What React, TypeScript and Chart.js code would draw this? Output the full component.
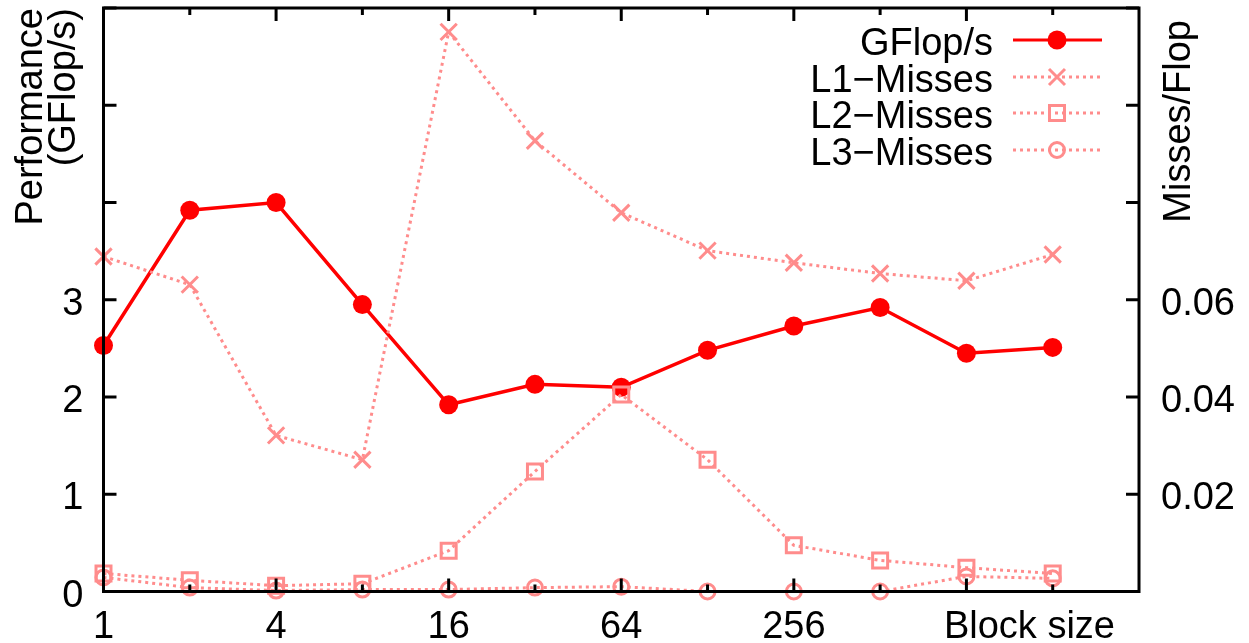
import React, { useEffect, useRef } from 'react';
import { Chart, registerables } from 'chart.js';

Chart.register(...registerables);

// ---- data ----
const blockSizes = ['1', '2', '4', '8', '16', '32', '64', '128', '256', '512', '1024', '2048'];
const xTickLabels = ['1', '', '4', '', '16', '', '64', '', '256', '', '', ''];
const xAxisTitle = 'Block size';
const leftAxisTitle = ['Performance', '(GFlop/s)'];
const rightAxisTitle = 'Misses/Flop';

const gflops = [2.53, 3.92, 4.0, 2.95, 1.92, 2.13, 2.1, 2.48, 2.73, 2.92, 2.45, 2.51];
const l1Misses = [0.0689, 0.0631, 0.0321, 0.0271, 0.1151, 0.0927, 0.0779, 0.0701, 0.0676, 0.0654, 0.0639, 0.0693];
const l2Misses = [0.0037, 0.0023, 0.0012, 0.0016, 0.0084, 0.0247, 0.0405, 0.0271, 0.0095, 0.0064, 0.0049, 0.0037];
const l3Misses = [0.0029, 0.0008, 0.0002, 0.0004, 0.0004, 0.0008, 0.001, 0, 0, 0, 0.0031, 0.0027];

const leftTicks = [0, 1, 2, 3, 4, 5, 6];
const leftTickLabels = ['0', '1', '2', '3', '', '', ''];
const rightTicks = [0, 0.02, 0.04, 0.06, 0.08, 0.1, 0.12];
const rightTickLabels = ['', '0.02', '0.04', '0.06', '', '', ''];

const seriesNames = ['GFlop/s', 'L1\u2212Misses', 'L2\u2212Misses', 'L3\u2212Misses'];

const RED = '#ff0000';
const PINK = '#ff8c8c';
const FONT = '38px "Liberation Sans", Arial, Helvetica, sans-serif';

const toPts = (arr: number[]) => arr.map((v, i) => ({ x: i, y: v }));

function drawMarker(ctx: CanvasRenderingContext2D, kind: string, x: number, y: number) {
  ctx.save();
  ctx.setLineDash([]);
  if (kind === 'circleFilled') {
    ctx.fillStyle = RED;
    ctx.beginPath();
    ctx.arc(x, y, 9.5, 0, Math.PI * 2);
    ctx.fill();
  } else if (kind === 'cross') {
    ctx.strokeStyle = PINK;
    ctx.lineWidth = 3;
    const d = 8;
    ctx.beginPath();
    ctx.moveTo(x - d, y - d);
    ctx.lineTo(x + d, y + d);
    ctx.moveTo(x + d, y - d);
    ctx.lineTo(x - d, y + d);
    ctx.stroke();
  } else if (kind === 'rect') {
    ctx.strokeStyle = PINK;
    ctx.lineWidth = 3;
    ctx.strokeRect(x - 7.5, y - 7.5, 15, 15);
  } else if (kind === 'circle') {
    ctx.strokeStyle = PINK;
    ctx.lineWidth = 3;
    ctx.beginPath();
    ctx.arc(x, y, 7.5, 0, Math.PI * 2);
    ctx.stroke();
  }
  ctx.restore();
}

const framePlugin = {
  id: 'gnuFrame',
  afterDatasetsDraw(chart: any) {
    const { ctx, chartArea: a, scales } = chart;
    const xs = scales.x;
    const ys = scales.y;
    const y2s = scales.y2;
    const line = (x1: number, y1: number, x2: number, y2: number) => {
      ctx.beginPath();
      ctx.moveTo(x1, y1);
      ctx.lineTo(x2, y2);
      ctx.stroke();
    };
    ctx.save();
    ctx.strokeStyle = '#000';
    ctx.lineWidth = 3;
    ctx.lineCap = 'butt';
    ctx.setLineDash([]);

    blockSizes.forEach((_, i) => {
      const px = xs.getPixelForValue(i);
      const len = i % 2 === 0 ? 13 : 7;
      line(px, a.bottom, px, a.bottom - len);
      line(px, a.top, px, a.top + len);
    });
    leftTicks.forEach((v) => {
      const py = ys.getPixelForValue(v);
      line(a.left, py, a.left + 13, py);
    });
    rightTicks.forEach((v) => {
      const py = y2s.getPixelForValue(v);
      line(a.right, py, a.right - 13, py);
    });
    ctx.strokeRect(a.left, a.top, a.right - a.left, a.bottom - a.top);

    // tick labels
    ctx.fillStyle = '#000';
    ctx.font = FONT;
    ctx.textBaseline = 'alphabetic';
    ctx.textAlign = 'center';
    xTickLabels.forEach((t, i) => {
      if (!t) return;
      ctx.fillText(t, xs.getPixelForValue(i), 638);
    });
    ctx.textAlign = 'right';
    ctx.fillText(xAxisTitle, a.right - 24, 638);

    leftTicks.forEach((v, i) => {
      const t = leftTickLabels[i];
      if (!t) return;
      ctx.fillText(t, a.left - 20, ys.getPixelForValue(v) + 15);
    });
    ctx.textAlign = 'left';
    rightTicks.forEach((v, i) => {
      const t = rightTickLabels[i];
      if (!t) return;
      ctx.fillText(t, a.right + 22, y2s.getPixelForValue(v) + 15);
    });

    // axis titles (rotated)
    ctx.save();
    ctx.translate(42, 8);
    ctx.rotate(-Math.PI / 2);
    ctx.textAlign = 'right';
    ctx.fillText(leftAxisTitle[0], 0, 0);
    ctx.fillText(leftAxisTitle[1], 0, 33);
    ctx.restore();

    ctx.save();
    ctx.translate(1190, 20);
    ctx.rotate(-Math.PI / 2);
    ctx.textAlign = 'right';
    ctx.fillText(rightAxisTitle, 0, 0);
    ctx.restore();

    // legend
    const kinds = ['circleFilled', 'cross', 'rect', 'circle'];
    const baselines = [55, 92, 128, 165];
    seriesNames.forEach((name, i) => {
      const by = baselines[i];
      const my = by - 15;
      ctx.fillStyle = '#000';
      ctx.textAlign = 'right';
      ctx.fillText(name, 993, by);
      ctx.save();
      ctx.lineWidth = 3;
      ctx.strokeStyle = i === 0 ? RED : PINK;
      ctx.setLineDash(i === 0 ? [] : [3, 4]);
      line(1013, my, 1102, my);
      ctx.restore();
      drawMarker(ctx, kinds[i], 1057, my);
    });
    ctx.restore();
  },
};

export default function App() {
  const ref = useRef<HTMLCanvasElement | null>(null);
  useEffect(() => {
    if (!ref.current) return;
    const fit = (w?: number, h?: number) => (scale: any) => {
      if (w !== undefined) scale.width = w;
      if (h !== undefined) scale.height = h;
      scale.paddingTop = 0;
      scale.paddingBottom = 0;
      scale.paddingLeft = 0;
      scale.paddingRight = 0;
    };
    const dotted = {
      borderColor: PINK,
      borderWidth: 3,
      borderDash: [3, 4],
      pointBorderColor: PINK,
      pointBackgroundColor: 'rgba(0,0,0,0)',
      pointBorderWidth: 3,
      yAxisID: 'y2',
      tension: 0,
      clip: false as any,
    };
    const chart = new Chart(ref.current, {
      type: 'line',
      data: {
        datasets: [
          {
            label: seriesNames[0],
            data: toPts(gflops),
            borderColor: RED,
            backgroundColor: RED,
            borderWidth: 3.5,
            pointRadius: 9.5,
            pointBackgroundColor: RED,
            pointBorderColor: RED,
            pointBorderWidth: 0,
            yAxisID: 'y',
            order: 4,
            clip: false as any,
          },
          { ...dotted, label: seriesNames[1], data: toPts(l1Misses), pointStyle: 'crossRot', pointRadius: 11.5, order: 3 },
          { ...dotted, label: seriesNames[2], data: toPts(l2Misses), pointStyle: 'rect', pointRadius: 10.6, order: 2 },
          { ...dotted, label: seriesNames[3], data: toPts(l3Misses), pointStyle: 'circle', pointRadius: 7.5, order: 1 },
        ] as any,
      },
      options: {
        animation: false,
        responsive: false,
        devicePixelRatio: 1,
        layout: { autoPadding: false, padding: { top: 8, left: 0, right: 0, bottom: 0 } },
        plugins: { legend: { display: false }, tooltip: { enabled: false } },
        elements: { line: { tension: 0 } },
        scales: {
          x: {
            type: 'linear',
            min: 0,
            max: 12,
            ticks: { display: false },
            grid: { display: false },
            border: { display: false },
            afterFit: fit(undefined, 51.5),
          },
          y: {
            position: 'left',
            min: 0,
            max: 6,
            ticks: { display: false },
            grid: { display: false },
            border: { display: false },
            afterFit: fit(103.5),
          },
          y2: {
            position: 'right',
            min: 0,
            max: 0.12,
            ticks: { display: false },
            grid: { display: false },
            border: { display: false },
            afterFit: fit(110),
          },
        },
      } as any,
      plugins: [framePlugin],
    });
    return () => chart.destroy();
  }, []);
  return (
    <div style={{ position: 'fixed', left: 0, top: 0, width: 1249, height: 643, background: '#fff' }}>
      <canvas ref={ref} width={1249} height={643} style={{ display: 'block', width: 1249, height: 643 }} />
    </div>
  );
}
